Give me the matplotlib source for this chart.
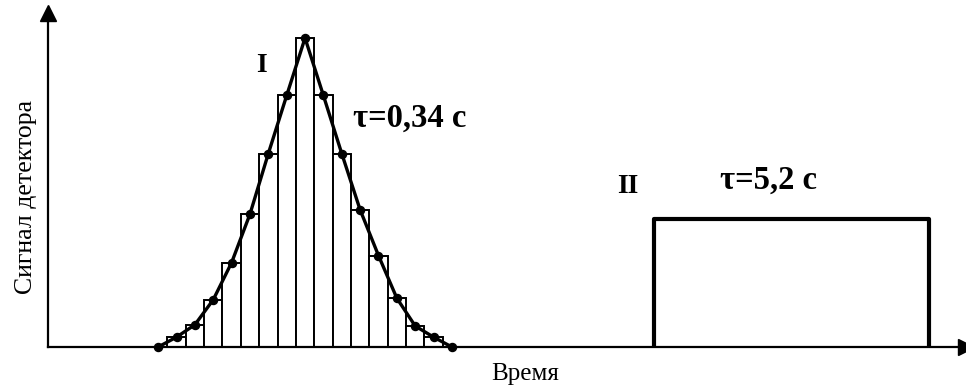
import matplotlib.pyplot as plt

plt.rcParams['font.family'] = ['Liberation Serif', 'DejaVu Serif']

# Peak I: detector signal sampled at equal time steps (peak = 100)
t_points = list(range(6, 23))
signal_points = [0, 3.2, 7.2, 15.3, 27.3, 43.0, 62.6, 81.4, 100,
                 81.4, 62.6, 44.4, 29.6, 15.8, 6.8, 3.2, 0]

# Histogram bars under peak I
t_bars = list(range(7, 22))
signal_bars = [3.2, 7.2, 15.3, 27.3, 43.0, 62.6, 81.4, 100,
               81.4, 62.6, 44.4, 29.6, 15.8, 6.8, 3.2]

# Peak II: rectangular signal
t_rect = [33, 33, 48, 48]
signal_rect = [0, 41.3, 41.3, 0]

fig = plt.figure(figsize=(9.66, 3.89), dpi=100)
ax = fig.add_axes([48 / 966, 42 / 389, 918 / 966, 334 / 389])
ax.set_xlim(0, 50)
ax.set_ylim(0, 108.1)

# bars of the histogram
ax.bar(t_bars, signal_bars, width=1.0, color='white', edgecolor='black',
       linewidth=1.4, zorder=1)

# peak line through the sample points
ax.plot(t_points, signal_points, color='black', lw=2.4, marker='o',
        markersize=5.8, zorder=3, clip_on=False)

# second peak
ax.plot(t_rect, signal_rect, color='black', lw=3.0, zorder=2,
        solid_joinstyle='round')

# axes with arrows
for s in ['top', 'right']:
    ax.spines[s].set_visible(False)
for s in ['left', 'bottom']:
    ax.spines[s].set_linewidth(1.6)
    ax.spines[s].set_zorder(4)
ax.set_xticks([])
ax.set_yticks([])
ax.plot([0], [108.1], marker='^', color='black', markersize=11,
        clip_on=False, zorder=5)
ax.plot([50], [0], marker='>', color='black', markersize=11,
        clip_on=False, zorder=5)

ax.set_ylabel('Сигнал детектора', fontsize=18.5)
ax.yaxis.set_label_coords(-0.012, 0.449)
ax.set_xlabel('Время', fontsize=18)
ax.xaxis.set_label_coords(0.52, -0.048)

ax.text(11.6, 91.0, 'I', fontsize=20, fontweight='bold', ha='center', va='center')
ax.text(16.6, 74.0, 'τ=0,34 с', fontsize=23.5, fontweight='bold', ha='left', va='center')
ax.text(31.6, 52.1, 'II', fontsize=20, fontweight='bold', ha='center', va='center')
ax.text(36.6, 54.0, 'τ=5,2 с', fontsize=23.5, fontweight='bold', ha='left', va='center')

fig.savefig('out.png', dpi=100)
